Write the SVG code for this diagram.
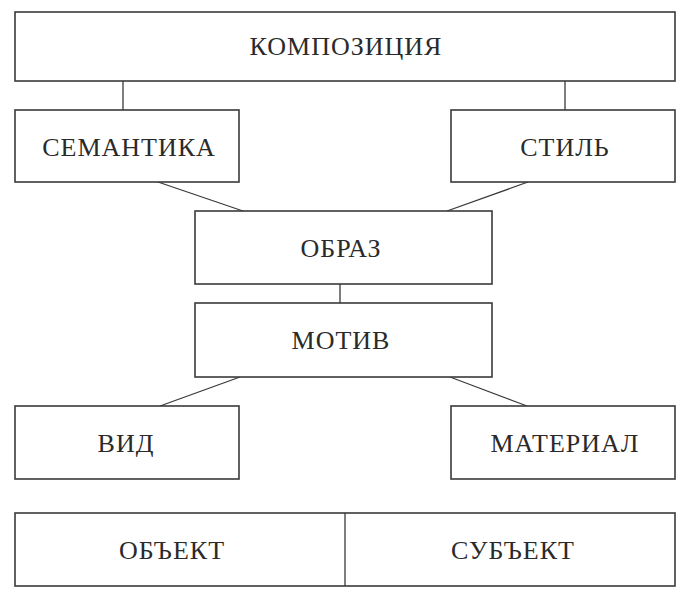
<svg xmlns="http://www.w3.org/2000/svg" width="690" height="601" viewBox="0 0 690 601">
<style>
.box{fill:#fff;stroke:#3a3a3a;stroke-width:1.6}
.lbl{font-family:"Liberation Serif","Times New Roman",serif;font-size:26px;letter-spacing:1px;fill:#2a2a2a;text-anchor:middle}
.con{stroke:#3a3a3a;stroke-width:1.3;fill:none}
</style>
<rect width="690" height="601" fill="#fff"/>
<g id="connectors">
<line class="con" x1="123" y1="81" x2="123" y2="110"/>
<line class="con" x1="565" y1="81" x2="565" y2="110"/>
<line class="con" x1="158" y1="182" x2="243" y2="211"/>
<line class="con" x1="528" y1="182" x2="447" y2="211"/>
<line class="con" x1="340" y1="284" x2="340" y2="303"/>
<line class="con" x1="240" y1="377" x2="160" y2="406"/>
<line class="con" x1="450" y1="377" x2="527" y2="406"/>
</g>
<g id="kompoziciya"><rect class="box" x="15" y="12" width="660" height="69"/><text class="lbl" x="346" y="55">КОМПОЗИЦИЯ</text></g>
<g id="semantika"><rect class="box" x="15" y="110" width="224" height="72"/><text class="lbl" x="129" y="156">СЕМАНТИКА</text></g>
<g id="stil"><rect class="box" x="451" y="110" width="224" height="72"/><text class="lbl" x="565" y="156">СТИЛЬ</text></g>
<g id="obraz"><rect class="box" x="195" y="211" width="297" height="73"/><text class="lbl" x="341" y="257">ОБРАЗ</text></g>
<g id="motiv"><rect class="box" x="195" y="303" width="297" height="74"/><text class="lbl" x="341" y="349">МОТИВ</text></g>
<g id="vid"><rect class="box" x="15" y="406" width="224" height="73"/><text class="lbl" x="126" y="452">ВИД</text></g>
<g id="material"><rect class="box" x="451" y="406" width="224" height="73"/><text class="lbl" x="565" y="452">МАТЕРИАЛ</text></g>
<g id="obekt-subekt"><rect class="box" x="15" y="513" width="660" height="73"/><line class="con" x1="345" y1="513" x2="345" y2="586"/></g>
<g id="obekt"><text class="lbl" x="172" y="559">ОБЪЕКТ</text></g>
<g id="subekt"><text class="lbl" x="513" y="559">СУБЪЕКТ</text></g>
</svg>
